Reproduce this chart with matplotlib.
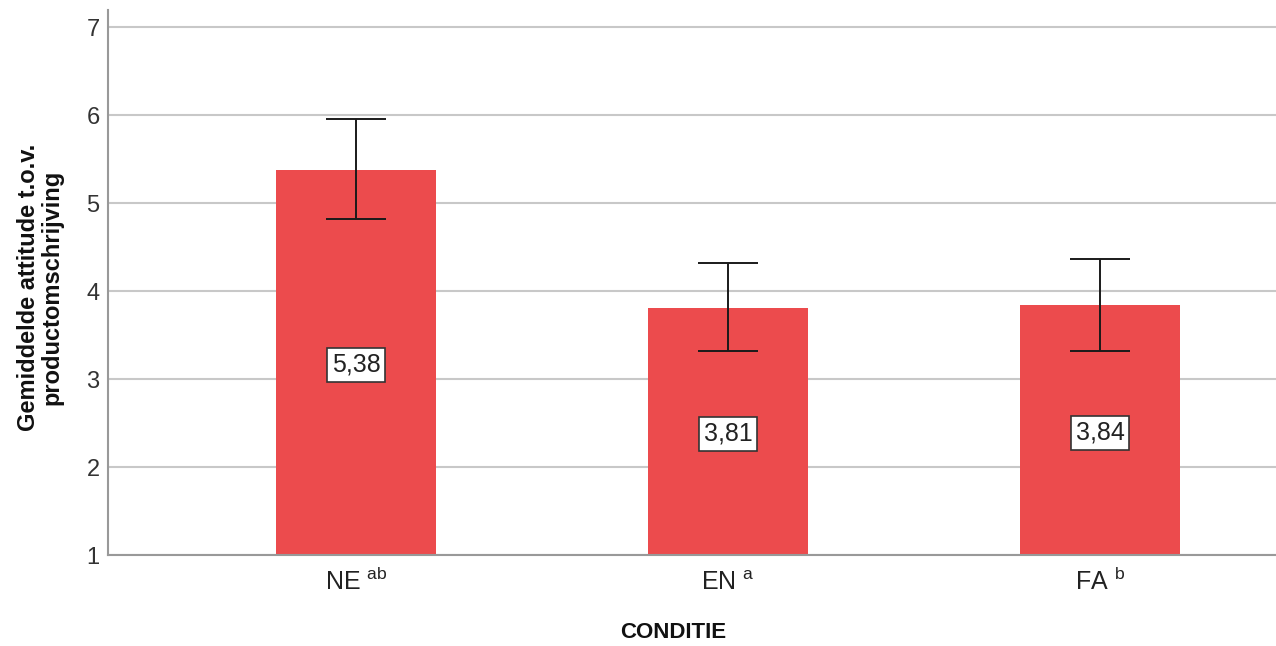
import matplotlib
matplotlib.use("Agg")
import matplotlib.pyplot as plt
import matplotlib.transforms as mtransforms
import numpy as np

categories = ["NE", "EN", "FA"]
superscripts = ["ab", "a", "b"]
means = [5.38, 3.81, 3.84]
ci_low = [4.82, 3.32, 3.32]
ci_high = [5.95, 4.32, 4.36]
value_labels = ["5,38", "3,81", "3,84"]
y_ticks = [1, 2, 3, 4, 5, 6, 7]

plt.rcParams['font.family'] = ['Liberation Sans', 'DejaVu Sans']
plt.rcParams['mathtext.fontset'] = 'custom'
plt.rcParams['mathtext.rm'] = 'Liberation Sans'
plt.rcParams['mathtext.default'] = 'regular'

fig = plt.figure(figsize=(12.76, 6.46), dpi=100)
ax = fig.add_axes([108/1276, 1-555/646, 1-108/1276, (555-10)/646])

x = np.arange(len(categories))
base = 1.0
heights = [m - base for m in means]
ax.bar(x, heights, bottom=base, width=0.43, color="#EC4B4D", zorder=2)

yerr = [[m - l for m, l in zip(means, ci_low)], [h - m for m, h in zip(means, ci_high)]]
ax.errorbar(x, means, yerr=yerr, fmt="none", ecolor="#1a1a1a", elinewidth=1.4,
            capsize=21.6, capthick=1.4, zorder=3)

for xi, m, lab in zip(x, means, value_labels):
    ax.text(xi, (base + m) / 2 - 0.03, lab, ha="center", va="center", fontsize=18,
            color="#222222", zorder=4,
            bbox=dict(boxstyle="square,pad=0.2", facecolor="white", edgecolor="#333333", linewidth=1.2))

ax.set_xlim(-0.667, 2.473)
ax.set_ylim(1, 7 + 17/88)
ax.set_yticks(y_ticks)
ax.set_yticklabels([str(t) for t in y_ticks], fontsize=17, color="#333333")
ax.set_xticks(x)
ax.set_xticklabels([""] * len(categories))
ax.tick_params(axis="both", length=0)
ax.tick_params(axis="y", pad=6)

# category labels with superscripts, aligned on a common baseline
trans = mtransforms.blended_transform_factory(ax.transData, fig.transFigure)
for xi, c, s in zip(x, categories, superscripts):
    ax.text(xi, 1 - 590/646, f"{c} $^{{{s}}}$", transform=trans, ha="center", va="baseline",
            fontsize=18, color="#222222")

ax.yaxis.grid(True, color="#C8C8C8", linewidth=1.5, zorder=0)
ax.set_axisbelow(True)
for s in ["top", "right"]:
    ax.spines[s].set_visible(False)
for s in ["left", "bottom"]:
    ax.spines[s].set_color("#999999")
    ax.spines[s].set_linewidth(1.5)

fig.text(673/1276, 1-633/646, "CONDITIE", fontsize=16, fontweight="bold",
         ha="center", va="center", color="#111111")
fig.text(40/1276, 1-287/646, "Gemiddelde attitude t.o.v.\nproductomschrijving", fontsize=17,
         fontweight="bold", rotation=90, ha="center", va="center", multialignment="center",
         linespacing=1.05, color="#111111")

fig.savefig("out.png", dpi=100)
